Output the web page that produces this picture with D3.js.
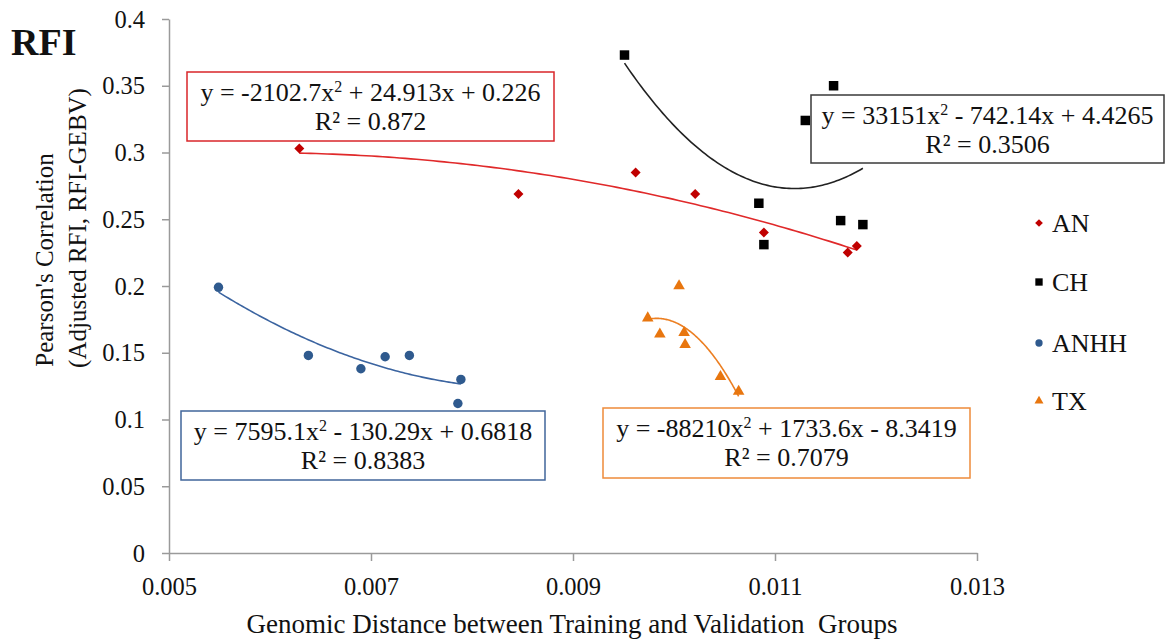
<!DOCTYPE html>
<html><head><meta charset="utf-8">
<script src="https://cdn.jsdelivr.net/npm/d3@7"></script>
<style>
body{margin:0;background:#fff;}
svg{display:block;}
text{font-family:"Liberation Serif","DejaVu Serif",serif;fill:#111;}
</style></head>
<body>
<svg id="chart" width="1168" height="642"></svg>
<script>
// ---- data ----
const seriesNames = ["AN", "CH", "ANHH", "TX"];
const anX = [0.00629, 0.00846, 0.00962, 0.01021, 0.01089, 0.01172, 0.01181];
const anY = [0.303, 0.269, 0.285, 0.269, 0.240, 0.225, 0.230];
const chX = [0.00951, 0.01158, 0.01130, 0.01084, 0.01089, 0.01165, 0.01187];
const chY = [0.373, 0.350, 0.324, 0.262, 0.231, 0.249, 0.246];
const anhhX = [0.00549, 0.00638, 0.00690, 0.00714, 0.00738, 0.00789, 0.00786];
const anhhY = [0.199, 0.148, 0.138, 0.147, 0.148, 0.130, 0.112];
const txX = [0.01005, 0.00974, 0.00986, 0.01010, 0.01011, 0.01046, 0.01064];
const txY = [0.200, 0.176, 0.164, 0.165, 0.156, 0.132, 0.121];
// trendline coefficients [a, b, c] for y = a x^2 + b x + c
const anFit = [-2102.7, 24.913, 0.226];
const chFit = [33151, -742.14, 4.4265];
const anhhFit = [7595.1, -130.29, 0.6818];
const txFit = [-88210, 1733.6, -8.3419];
const xTicks = [0.005, 0.007, 0.009, 0.011, 0.013];
const xTickLabels = ["0.005", "0.007", "0.009", "0.011", "0.013"];
const yTicks = [0, 0.05, 0.1, 0.15, 0.2, 0.25, 0.3, 0.35, 0.4];
const yTickLabels = ["0", "0.05", "0.1", "0.15", "0.2", "0.25", "0.3", "0.35", "0.4"];
const eqLine1 = [["y = -2102.7x", "2", " + 24.913x + 0.226"], ["y = 33151x", "2", " - 742.14x + 4.4265"], ["y = 7595.1x", "2", " - 130.29x + 0.6818"], ["y = -88210x", "2", " + 1733.6x - 8.3419"]];
const eqLine2 = ["R² = 0.872", "R² = 0.3506", "R² = 0.8383", "R² = 0.7079"];

// ---- drawing ----
const svg = d3.select("#chart");
const x = d3.scaleLinear().domain([0.005, 0.013]).range([169, 977]);
const y = d3.scaleLinear().domain([0, 0.4]).range([553, 19]);
const axisColor = "#9a9a9a";

const gx = svg.append("g").attr("transform", `translate(0,${y(0)})`)
  .call(d3.axisBottom(x).tickValues(xTicks).tickFormat((d,i)=>xTickLabels[i]).tickSize(8).tickSizeOuter(0));
const gy = svg.append("g").attr("transform", `translate(${x(0.005)},0)`)
  .call(d3.axisLeft(y).tickValues(yTicks).tickFormat((d,i)=>yTickLabels[i]).tickSize(7).tickSizeOuter(0));
[gx, gy].forEach(g=>{
  g.select(".domain").attr("stroke", axisColor).attr("stroke-width", 1.5);
  g.selectAll(".tick line").attr("stroke", axisColor).attr("stroke-width", 1.5);
  g.selectAll(".tick text").attr("font-family", "Liberation Serif").attr("font-size", 24.5).attr("fill", "#111");
});
gx.selectAll(".tick text").attr("dy", "0").attr("y", 42);
gy.selectAll(".tick text").attr("x", -24).attr("dy", "0.33em");

// titles
svg.append("text").attr("x", 11).attr("y", 55).attr("font-size", 38).attr("font-weight", "bold").text("RFI");
svg.append("text").attr("x", 572).attr("y", 633).attr("text-anchor", "middle").attr("font-size", 27)
  .style("white-space", "pre").text("Genomic Distance between Training and Validation  Groups");
svg.append("text").attr("transform", "translate(53,260) rotate(-90)").attr("text-anchor", "middle").attr("font-size", 25).text("Pearson's Correlation");
svg.append("text").attr("transform", "translate(86,228) rotate(-90)").attr("text-anchor", "middle").attr("font-size", 25).text("(Adjusted RFI, RFI-GEBV)");

const colors = {AN: "#C00000", CH: "#000000", ANHH: "#2F5A8E", TX: "#E8760F"};
const lineColors = {AN: "#E0292A", CH: "#222222", ANHH: "#3B64A0", TX: "#EC7F22"};
const symbols = {AN: d3.symbolSquare, CH: d3.symbolSquare, ANHH: d3.symbolCircle, TX: d3.symbolTriangle};
const rotations = {AN: 45, CH: 0, ANHH: 0, TX: 0};
const symSizes = {AN: 50, CH: 90, ANHH: 70, TX: 58};
const xs = {AN: anX, CH: chX, ANHH: anhhX, TX: txX};
const ys = {AN: anY, CH: chY, ANHH: anhhY, TX: txY};
const fits = {AN: anFit, CH: chFit, ANHH: anhhFit, TX: txFit};

// trendlines
seriesNames.forEach(s=>{
  const [a,b,c] = fits[s];
  const lo = d3.min(xs[s]), hi = d3.max(xs[s]);
  const pts = d3.range(0, 101).map(i=>{const xv = lo + (hi-lo)*i/100; return [xv, a*xv*xv + b*xv + c];});
  svg.append("path").datum(pts).attr("fill","none").attr("stroke", lineColors[s]).attr("stroke-width", 1.6)
    .attr("d", d3.line().x(d=>x(d[0])).y(d=>y(d[1])));
});
// points
seriesNames.forEach(s=>{
  const sym = d3.symbol().type(symbols[s]).size(symSizes[s]);
  svg.append("g").selectAll("path").data(xs[s].map((v,i)=>[v, ys[s][i]])).join("path")
    .attr("transform", d=>`translate(${x(d[0])},${y(d[1])}) rotate(${rotations[s]})`)
    .attr("d", sym).attr("fill", colors[s]);
});

// equation boxes
const boxes = [
  {s:"AN", x0:187, y0:72, w:367, h:69, stroke:"#D9262A"},
  {s:"CH", x0:811, y0:95, w:353, h:68, stroke:"#3A3A3A"},
  {s:"ANHH", x0:181, y0:411, w:364, h:69, stroke:"#40659A"},
  {s:"TX", x0:603, y0:408, w:367, h:70, stroke:"#EE8B3A"}
];
boxes.forEach((bx,i)=>{
  const g = svg.append("g");
  g.append("rect").attr("x", bx.x0).attr("y", bx.y0).attr("width", bx.w).attr("height", bx.h)
    .attr("fill", "#fff").attr("stroke", bx.stroke).attr("stroke-width", 1.5);
  const t = g.append("text").attr("x", bx.x0 + bx.w/2).attr("y", bx.y0 + 29).attr("text-anchor", "middle").attr("font-size", 26);
  t.append("tspan").text(eqLine1[i][0]);
  t.append("tspan").attr("dy", -9).attr("font-size", 16).text(eqLine1[i][1]);
  t.append("tspan").attr("dy", 9).text(eqLine1[i][2]);
  g.append("text").attr("x", bx.x0 + bx.w/2).attr("y", bx.y0 + 58).attr("text-anchor", "middle").attr("font-size", 26).text(eqLine2[i]);
});

// legend
const legY = [223, 282, 343, 401];
seriesNames.forEach((s,i)=>{
  const sym = d3.symbol().type(symbols[s]).size(symSizes[s]*0.6);
  svg.append("path").attr("transform", `translate(1039,${legY[i]}) rotate(${rotations[s]})`).attr("d", sym).attr("fill", colors[s]);
  svg.append("text").attr("x", 1052).attr("y", legY[i]+9).attr("font-size", 26).text(s);
});
</script>
</body></html>
